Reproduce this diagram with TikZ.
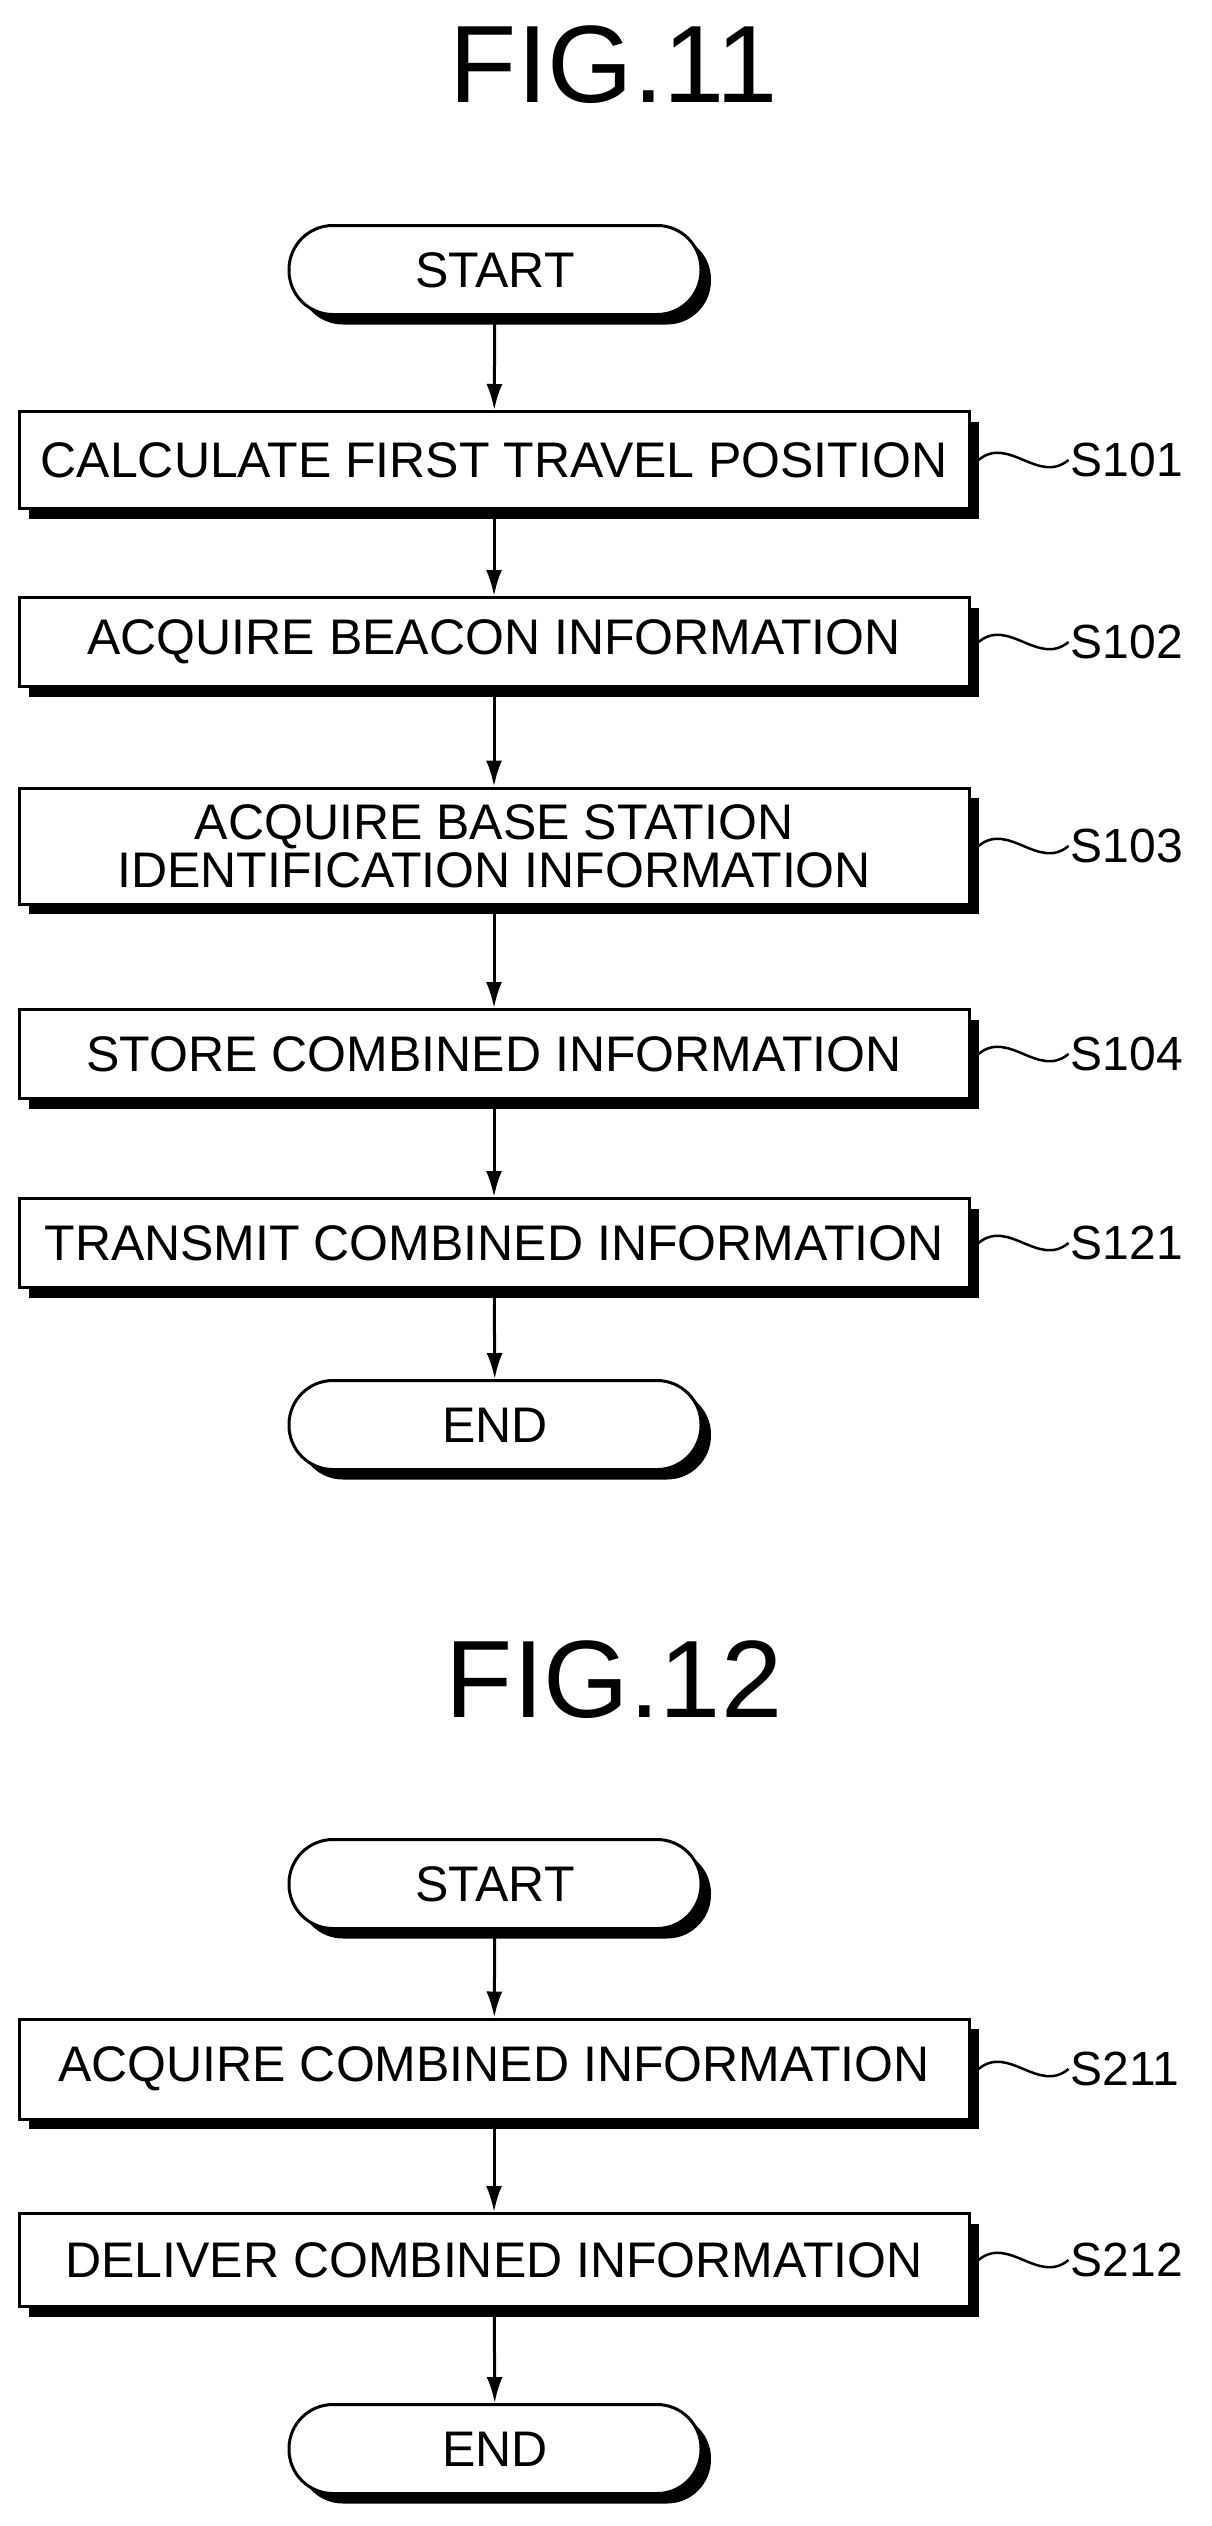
\documentclass[tikz,border=0pt]{standalone}
\usepackage{fontspec}
\setmainfont{Liberation Sans}
\usetikzlibrary{positioning,shadows,arrows.meta}
\tikzset{
  proc/.style={draw,line width=3pt,fill=white,minimum width=950pt,align=center,inner sep=4pt,
    font=\fontsize{50}{56}\selectfont,drop shadow={shadow xshift=10pt,shadow yshift=-10pt,fill=black,opacity=1}},
  term/.style={draw,line width=3pt,fill=white,rounded corners=44pt,minimum width=412pt,minimum height=89pt,
    font=\fontsize{50}{56}\selectfont,drop shadow={shadow xshift=10pt,shadow yshift=-10pt,fill=black,opacity=1}},
  title/.style={font=\fontsize{110}{120}\selectfont},
  lbl/.style={font=\fontsize{48}{56}\selectfont,anchor=west,inner sep=2pt},
  flow/.style={line width=3pt,-{Latex[length=26pt,width=16pt]}},
  tilde/.style={line width=2.5pt}
}
\newcommand{\steplabel}[2]{%
  \draw[tilde] (#1.east) ++(8pt,0) .. controls +(30pt,25pt) and +(-30pt,-25pt) .. ++(90pt,0) coordinate (#1tl);
  \node[lbl] at (#1tl) {#2};}
\begin{document}
\begin{tikzpicture}[x=1pt,y=1pt]
\useasboundingbox (0,0) rectangle (1211,-2526);
% FIG.11
\node (t11) [title] at (614,-65) {FIG.11};
\node (start1) [term] at (495,-270) {START};
\node (s101) [proc,minimum height=97pt] at (494,-460) {CALCULATE FIRST TRAVEL POSITION};
\node (s102) [proc,minimum height=89pt] at (494,-642) {ACQUIRE BEACON INFORMATION};
\node (s103) [proc,minimum height=116pt] at (494,-846) {ACQUIRE BASE STATION\\[-8pt]IDENTIFICATION INFORMATION};
\node (s104) [proc,minimum height=89pt] at (494,-1054) {STORE COMBINED INFORMATION};
\node (s121) [proc,minimum height=89pt] at (494,-1243) {TRANSMIT COMBINED INFORMATION};
\node (end1) [term] at (495,-1425) {END};
\draw[flow] (start1) -- (s101);
\draw[flow] (s101) -- (s102);
\draw[flow] (s102) -- (s103);
\draw[flow] (s103) -- (s104);
\draw[flow] (s104) -- (s121);
\draw[flow] (s121) -- (end1);
\steplabel{s101}{S101}
\steplabel{s102}{S102}
\steplabel{s103}{S103}
\steplabel{s104}{S104}
\steplabel{s121}{S121}
% FIG.12
\node (t12) [title] at (614,-1680) {FIG.12};
\node (start2) [term] at (495,-1884) {START};
\node (s211) [proc,minimum height=100pt] at (494,-2069) {ACQUIRE COMBINED INFORMATION};
\node (s212) [proc,minimum height=93pt] at (494,-2260) {DELIVER COMBINED INFORMATION};
\node (end2) [term] at (495,-2449) {END};
\draw[flow] (start2) -- (s211);
\draw[flow] (s211) -- (s212);
\draw[flow] (s212) -- (end2);
\steplabel{s211}{S211}
\steplabel{s212}{S212}
\end{tikzpicture}
\end{document}
